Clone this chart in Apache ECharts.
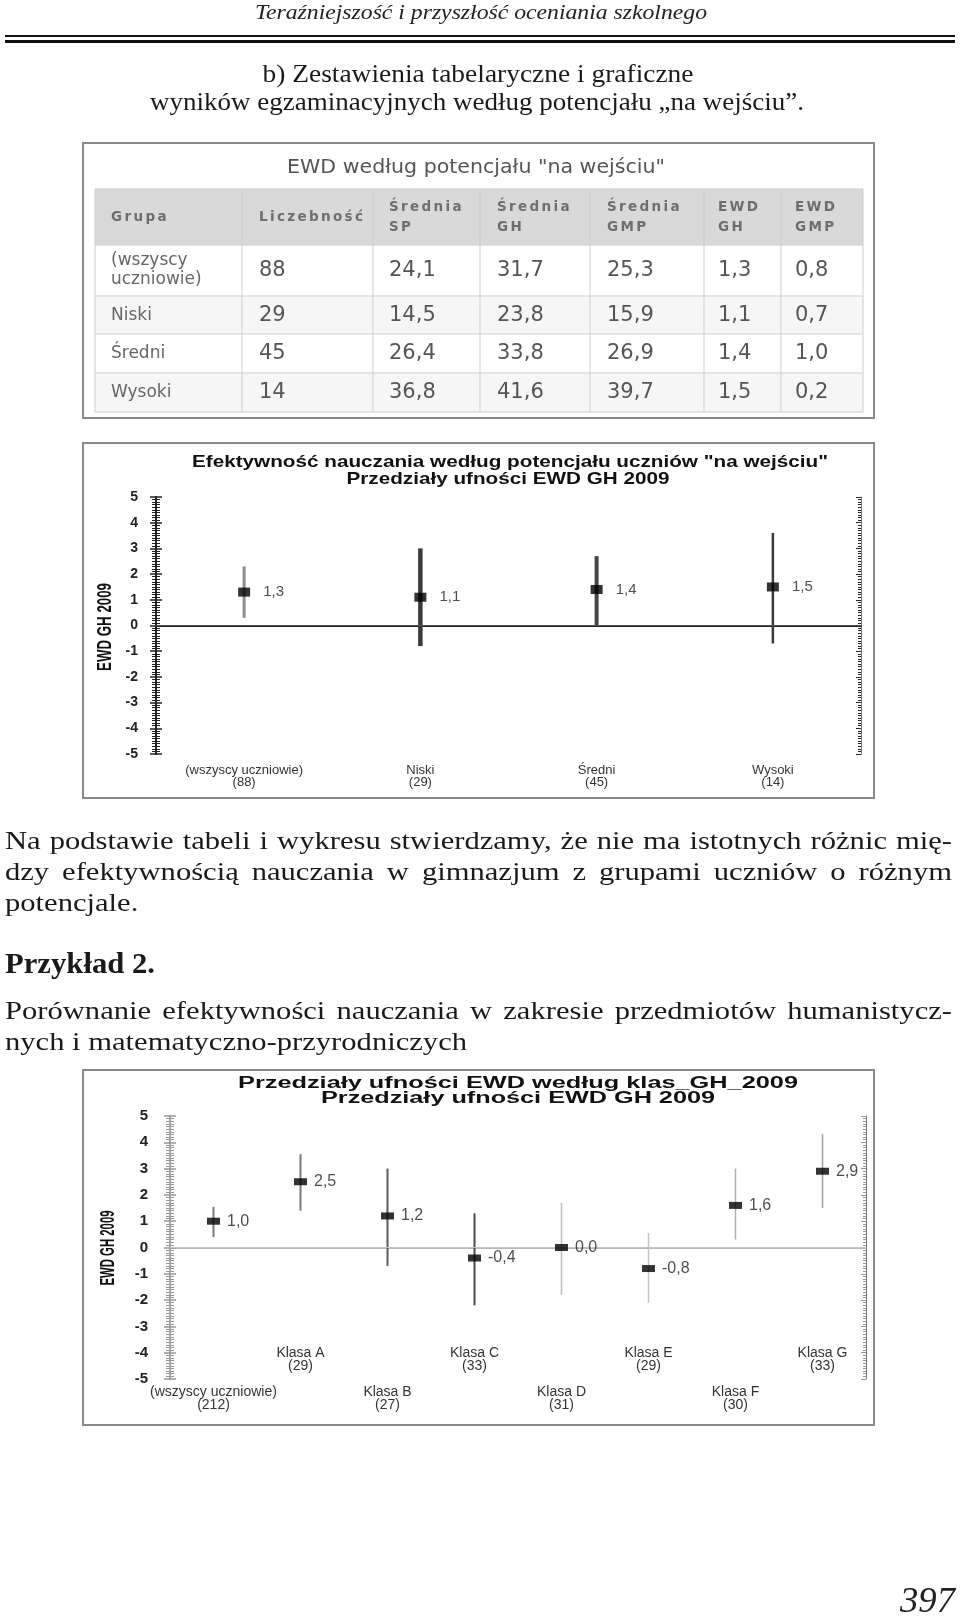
<!DOCTYPE html>
<html><head><meta charset="utf-8">
<script src="https://cdn.jsdelivr.net/npm/echarts@6/dist/echarts.min.js"></script>
<style>html,body{margin:0;padding:0;background:#fff}#c{width:960px;height:1619px}</style>
</head><body><div id="c"></div>
<script>
// ---------- DATA ----------
const tableTitle = 'EWD według potencjału "na wejściu"';
const tableHeaders = [['Grupa'], ['Liczebność'], ['Średnia', 'SP'], ['Średnia', 'GH'], ['Średnia', 'GMP'], ['EWD', 'GH'], ['EWD', 'GMP']];
const groups1 = ['(wszyscy uczniowie)', 'Niski', 'Średni', 'Wysoki'];
const counts1 = [88, 29, 45, 14];
const sredniaSP = [24.1, 14.5, 26.4, 36.8];
const sredniaGH = [31.7, 23.8, 33.8, 41.6];
const sredniaGMP = [25.3, 15.9, 26.9, 39.7];
const ewdGH = [1.3, 1.1, 1.4, 1.5];
const ewdGMP = [0.8, 0.7, 1.0, 0.2];
const ci1Low = [0.3, -0.8, 0.0, -0.7];
const ci1High = [2.3, 3.0, 2.7, 3.6];

const chart1Title = ['Efektywność nauczania według potencjału uczniów "na wejściu"', 'Przedziały ufności EWD GH 2009'];
const chart2Title = ['Przedziały ufności EWD według klas_GH_2009', 'Przedziały ufności EWD GH 2009'];
const yName1 = 'EWD GH 2009';
const yName2 = 'EWD GH 2009';

const groups2 = ['(wszyscy uczniowie)', 'Klasa A', 'Klasa B', 'Klasa C', 'Klasa D', 'Klasa E', 'Klasa F', 'Klasa G'];
const counts2 = [212, 29, 27, 33, 31, 29, 30, 33];
const ewd2 = [1.0, 2.5, 1.2, -0.4, 0.0, -0.8, 1.6, 2.9];
const ci2Low = [0.4, 1.4, -0.7, -2.2, -1.8, -2.1, 0.3, 1.5];
const ci2High = [1.55, 3.55, 3.0, 1.3, 1.7, 0.55, 3.0, 4.3];

const yMin = -5, yMax = 5, yStep = 1;

const headerText = 'Teraźniejszość i przyszłość oceniania szkolnego';
const sectionTitle = ['b) Zestawienia tabelaryczne i graficzne', 'wyników egzaminacyjnych według potencjału „na wejściu”.'];
const para1 = ['Na podstawie tabeli i wykresu stwierdzamy, że nie ma istotnych różnic mię-', 'dzy efektywnością nauczania w gimnazjum z grupami uczniów o różnym', 'potencjale.'];
const exampleTitle = 'Przykład 2.';
const para2 = ['Porównanie efektywności nauczania w zakresie przedmiotów humanistycz-', 'nych i matematyczno-przyrodniczych'];
const pageNumber = '397';

// ---------- STYLES (not data) ----------
const bar1Colors = ['#8c8c8c', '#3a3a3a', '#454545', '#3a3a3a'];
const bar1Widths = [3, 4.5, 4, 2.5];
const bar2Colors = ['#7a7a7a', '#7a7a7a', '#5a5a5a', '#4a4a4a', '#bdbdbd', '#c4c4c4', '#b0b0b0', '#a0a0a0'];
const bar2Widths = [2, 2, 2, 2, 1.5, 1.5, 1.5, 1.5];

// ---------- HELPERS ----------
const mctx = document.createElement('canvas').getContext('2d');
function tw(text, size, family, weight, style) {
  mctx.font = [style || 'normal', weight || 'normal', size + 'px', family].join(' ');
  return mctx.measureText(text).width;
}
const fmt = v => v.toFixed(1).replace('.', ',');
const SERIF = '"Liberation Serif"';
const els = [];
function txt(text, x, y, o) {
  o = o || {};
  const size = o.size || 14, fam = o.family || 'Liberation Sans', wt = o.weight || 'normal', st = o.style || 'normal';
  let sx = 1;
  if (o.width) sx = o.width / tw(text, size, fam, wt, st);
  if (o.sx) sx = o.sx;
  els.push({
    type: 'text', x: x, y: y, scaleX: sx, rotation: o.rotation || 0, z: 10,
    style: {
      text: text, x: 0, y: 0, fontSize: size, fontFamily: fam, fontWeight: wt, fontStyle: st,
      fill: o.color || '#222', align: o.align || 'left', textAlign: o.align || 'left',
      verticalAlign: 'middle', textVerticalAlign: 'middle'
    }
  });
}
function spaced(text, x, y, size, fam, wt, spacing, color) {
  let cx = x;
  for (const ch of text) {
    txt(ch, cx, y, {size: size, family: fam, weight: wt, color: color});
    cx += tw(ch, size, fam, wt) + spacing;
  }
}
function justify(line, x0, x1, y, size, sx) {
  const words = line.split(' ');
  const ws = words.map(w => tw(w, size, SERIF) * sx);
  const sum = ws.reduce((a, b) => a + b, 0);
  const gap = (x1 - x0 - sum) / (words.length - 1);
  let x = x0;
  words.forEach((w, i) => { txt(w, x, y, {size: size, family: SERIF, sx: sx, color: '#1a1a1a'}); x += ws[i] + gap; });
}
function rect(x, y, w, h, fill, stroke, lw) {
  els.push({type: 'rect', z: 1, shape: {x: x, y: y, width: w, height: h},
    style: {fill: fill || 'none', stroke: stroke || 'none', lineWidth: lw || 1}});
}
function line(x1, y1, x2, y2, color, lw) {
  els.push({type: 'line', z: 2, shape: {x1: x1, y1: y1, x2: x2, y2: y2}, style: {stroke: color, lineWidth: lw || 1}});
}

// ---------- PAGE TEXT ----------
txt(headerText, 481, 13, {size: 22, family: SERIF, style: 'italic', align: 'center', width: 452, color: '#222'});
rect(5, 35, 950, 2, '#111');
rect(5, 40, 950, 3, '#111');
txt(sectionTitle[0], 478, 75, {size: 25, family: SERIF, align: 'center', width: 431, color: '#1a1a1a'});
txt(sectionTitle[1], 477, 103, {size: 25, family: SERIF, align: 'center', width: 654, color: '#1a1a1a'});

const bodySize = 26;
const bodySx = 462 / tw(para2[1], bodySize, SERIF);
justify(para1[0], 5, 952, 842, bodySize, bodySx);
justify(para1[1], 5, 952, 873, bodySize, bodySx);
txt(para1[2], 5, 904, {size: bodySize, family: SERIF, sx: bodySx, color: '#1a1a1a'});
txt(exampleTitle, 5, 966, {size: 29, family: SERIF, weight: 'bold', width: 150, color: '#1a1a1a'});
justify(para2[0], 5, 952, 1012, bodySize, bodySx);
txt(para2[1], 5, 1043, {size: bodySize, family: SERIF, sx: bodySx, color: '#1a1a1a'});
txt(pageNumber, 955, 1603, {size: 36, family: SERIF, style: 'italic', align: 'right', width: 55, color: '#222'});

// ---------- TABLE ----------
rect(83, 143, 791, 275, '#fff', '#8a8a8a', 2);
txt(tableTitle, 476, 168, {size: 20, family: 'DejaVu Sans', align: 'center', width: 378, color: '#555'});
const colX = [95, 242, 373, 480, 590, 704, 781, 863];
const rowY = [189, 245, 296, 334, 373, 412];
const pads = [16, 17, 16, 17, 17, 14, 14];
rect(95, 189, 768, 56, '#d9d9d9');
rect(95, 245, 768, 51, '#ffffff');
rect(95, 296, 768, 38, '#f6f6f6');
rect(95, 334, 768, 39, '#ffffff');
rect(95, 373, 768, 39, '#f6f6f6');
rowY.forEach(y => line(95, y, 863, y, '#cdcdcd', 1));
colX.forEach(x => line(x, 189, x, 412, '#cdcdcd', 1));
const hSize = 13.5, hFam = 'DejaVu Sans', hW = 'bold';
const natL = tw('Liczebność', hSize, hFam, hW);
const hSpacing = Math.max(0.5, (104 - natL) / 9);
tableHeaders.forEach((h, c) => {
  const x = colX[c] + pads[c];
  if (h.length === 1) spaced(h[0], x, 217, hSize, hFam, hW, hSpacing, '#6e6e6e');
  else { spaced(h[0], x, 207, hSize, hFam, hW, hSpacing, '#6e6e6e'); spaced(h[1], x, 227, hSize, hFam, hW, hSpacing, '#6e6e6e'); }
});
const rowMid = [271, 316, 354, 393];
const cols = [counts1.map(String), sredniaSP.map(fmt), sredniaGH.map(fmt), sredniaGMP.map(fmt), ewdGH.map(fmt), ewdGMP.map(fmt)];
groups1.forEach((g, r) => {
  const gx = colX[0] + pads[0];
  if (g.indexOf(' ') > 0) {
    const parts = g.split(' ');
    txt(parts[0], gx, rowMid[r] - 10, {size: 17, family: 'DejaVu Sans', color: '#666'});
    txt(parts[1], gx, rowMid[r] + 9, {size: 17, family: 'DejaVu Sans', color: '#666'});
  } else txt(g, gx, rowMid[r], {size: 17, family: 'DejaVu Sans', color: '#666'});
  cols.forEach((col, c) => txt(col[r], colX[c + 1] + pads[c + 1], rowMid[r], {size: 21, family: 'DejaVu Sans', color: '#555'}));
});

// ---------- CHART FRAMES & TITLES ----------
rect(83, 443, 791, 355, 'none', '#8a8a8a', 2);
txt(chart1Title[0], 510, 462, {size: 17, weight: 'bold', align: 'center', width: 636, color: '#111'});
txt(chart1Title[1], 508, 479, {size: 17, weight: 'bold', align: 'center', width: 323, color: '#111'});
txt(yName1, 105, 627, {size: 21, weight: 'bold', align: 'center', width: 88, rotation: Math.PI / 2, color: '#111'});
rect(83, 1070, 791, 355, 'none', '#8a8a8a', 2);
txt(chart2Title[0], 518, 1084, {size: 16, weight: 'bold', align: 'center', width: 560, color: '#111'});
txt(chart2Title[1], 518, 1099, {size: 16, weight: 'bold', align: 'center', width: 394, color: '#111'});
txt(yName2, 108, 1248, {size: 20, weight: 'bold', align: 'center', width: 75, rotation: Math.PI / 2, color: '#111'});

// ---------- ECHARTS ----------
const cat1 = groups1.map((g, i) => g + '\n(' + counts1[i] + ')');
const cat2 = groups2.map((g, i) => g + '\n(' + counts2[i] + ')');

function yAxes(grid, color, lineColor, labelMargin, labelWeight, labelSize) {
  const base = {gridIndex: grid, type: 'value', min: yMin, max: yMax, interval: yStep, splitLine: {show: false}};
  return [
    Object.assign({}, base, {position: 'left', axisLine: {show: true, lineStyle: {color: lineColor, width: 2}},
      axisTick: {show: true, length: 6, lineStyle: {color: color, width: 1.5}},
      minorTick: {show: true, splitNumber: 10, length: 4, lineStyle: {color: color, width: 1}},
      axisLabel: {margin: labelMargin, fontSize: labelSize, fontWeight: labelWeight, color: '#222', fontFamily: 'Liberation Sans'}}),
    Object.assign({}, base, {position: 'left', axisLine: {show: false},
      axisTick: {show: true, inside: true, length: 6, lineStyle: {color: color, width: 1.5}},
      minorTick: {show: true, splitNumber: 10, length: 4, lineStyle: {color: color, width: 1}},
      axisLabel: {show: false}}),
    Object.assign({}, base, {position: 'right', axisLine: {show: true, lineStyle: {color: '#777', width: 1}},
      axisTick: {show: true, inside: true, length: 5, lineStyle: {color: color, width: 1}},
      minorTick: {show: true, splitNumber: 10, length: 3, lineStyle: {color: color, width: 1}},
      axisLabel: {show: false}})
  ];
}

function errRender(colors, widths) {
  return function (params, api) {
    const x = api.value(0);
    const p1 = api.coord([x, api.value(1)]);
    const p2 = api.coord([x, api.value(2)]);
    return {type: 'line', shape: {x1: p1[0], y1: p1[1], x2: p2[0], y2: p2[1]},
      style: {stroke: colors[params.dataIndex], lineWidth: widths[params.dataIndex]}};
  };
}

const option = {
  animation: false,
  backgroundColor: '#fff',
  graphic: {elements: els},
  grid: [
    {left: 156, top: 497, width: 705, height: 257, containLabel: false},
    {left: 170, top: 1116, width: 696, height: 263, containLabel: false}
  ],
  xAxis: [
    {gridIndex: 0, type: 'category', data: cat1, position: 'bottom',
      axisLine: {lineStyle: {color: '#222', width: 2}},
      axisTick: {alignWithLabel: true, interval: 0, length: 6, lineStyle: {color: '#222', width: 2}},
      axisLabel: {interval: 0, hideOverlap: false, margin: 10, fontSize: 13, lineHeight: 12.5, color: '#333', fontFamily: 'Liberation Sans'}},
    {gridIndex: 0, type: 'category', data: cat1, position: 'bottom', axisLine: {show: false},
      axisTick: {inside: true, alignWithLabel: true, interval: 0, length: 6, lineStyle: {color: '#222', width: 2}},
      axisLabel: {show: false}},
    {gridIndex: 0, type: 'category', data: cat1, position: 'top',
      axisLine: {lineStyle: {color: '#777', width: 1}},
      axisTick: {inside: true, alignWithLabel: true, interval: 0, length: 5, lineStyle: {color: '#333', width: 2}},
      axisLabel: {show: false}},
    {gridIndex: 1, type: 'category', data: cat2, position: 'bottom',
      axisLine: {lineStyle: {color: '#999', width: 1.5}},
      axisTick: {alignWithLabel: true, interval: 0, length: 7, lineStyle: {color: '#888', width: 1.5}},
      axisLabel: {interval: (i) => i % 2 === 0, margin: 7, fontSize: 14, lineHeight: 12.5, color: '#333', fontFamily: 'Liberation Sans'}},
    {gridIndex: 1, type: 'category', data: cat2, position: 'bottom', axisLine: {show: false},
      axisTick: {show: false},
      axisLabel: {inside: true, interval: (i) => i % 2 === 1, margin: 7, fontSize: 14, lineHeight: 12.5, color: '#333', fontFamily: 'Liberation Sans'}},
    {gridIndex: 1, type: 'category', data: cat2, position: 'top',
      axisLine: {lineStyle: {color: '#bbb', width: 1.5}},
      axisTick: {inside: true, alignWithLabel: true, interval: 0, length: 6, lineStyle: {color: '#aaa', width: 1.5}},
      axisLabel: {show: false}}
  ],
  yAxis: [].concat(
    yAxes(0, '#222', '#222', 18, 'bold', 14),
    yAxes(1, '#999', '#aaa', 22, 'bold', 15)
  ),
  series: [
    {type: 'custom', xAxisIndex: 0, yAxisIndex: 0, z: 3,
      renderItem: errRender(bar1Colors, bar1Widths),
      encode: {x: 0, y: [1, 2]},
      data: groups1.map((g, i) => [i, ci1Low[i], ci1High[i]])},
    {type: 'scatter', xAxisIndex: 0, yAxisIndex: 0, z: 5, symbol: 'rect', symbolSize: [12, 9],
      itemStyle: {color: '#000'},
      label: {show: true, position: 'right', distance: 13, formatter: p => fmt(p.value), fontSize: 15, color: '#222', fontFamily: 'Liberation Sans'},
      markLine: {silent: true, symbol: 'none', label: {show: false}, lineStyle: {color: '#555', width: 1, type: 'solid'}, data: [{yAxis: 0}]},
      data: ewdGH},
    {type: 'custom', xAxisIndex: 3, yAxisIndex: 3, z: 3,
      renderItem: errRender(bar2Colors, bar2Widths),
      encode: {x: 0, y: [1, 2]},
      data: groups2.map((g, i) => [i, ci2Low[i], ci2High[i]])},
    {type: 'scatter', xAxisIndex: 3, yAxisIndex: 3, z: 5, symbol: 'rect', symbolSize: [13, 7],
      itemStyle: {color: '#000'},
      label: {show: true, position: 'right', distance: 7, formatter: p => fmt(p.value), fontSize: 16, color: '#222', fontFamily: 'Liberation Sans'},
      markLine: {silent: true, symbol: 'none', label: {show: false}, lineStyle: {color: '#c4c4c4', width: 1, type: 'solid'}, data: [{yAxis: 0}]},
      data: ewd2}
  ]
};
const chart = echarts.init(document.getElementById('c'), null, {renderer: 'canvas'});
chart.setOption(option);
</script>
</body></html>
